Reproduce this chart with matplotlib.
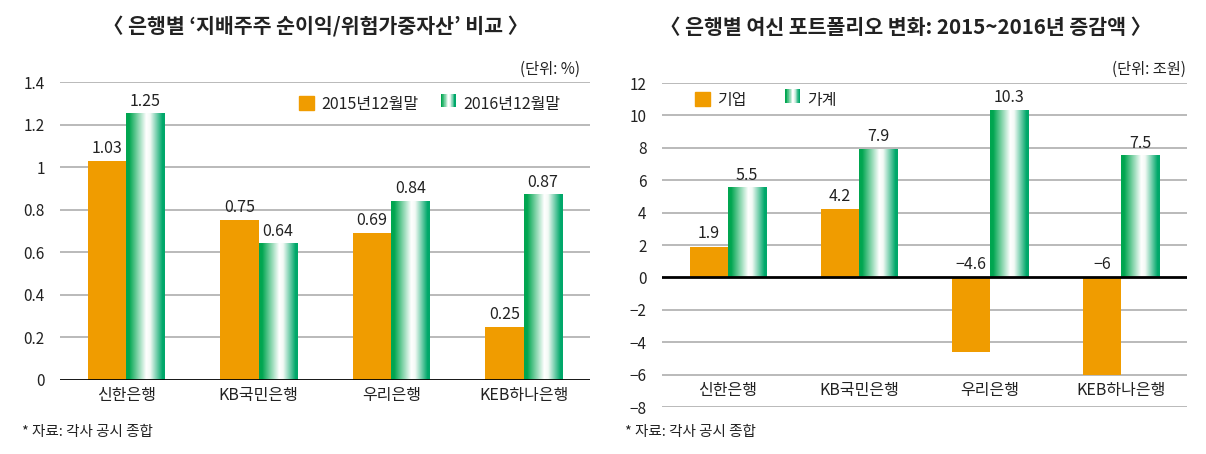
import numpy as np
import matplotlib
matplotlib.use("Agg")
import matplotlib.pyplot as plt
from matplotlib.colors import LinearSegmentedColormap
from matplotlib.patches import Rectangle
from matplotlib.legend_handler import HandlerBase

plt.rcParams['font.family'] = ['Noto Sans CJK KR', 'DejaVu Sans']
plt.rcParams['axes.unicode_minus'] = True

# ── data ──────────────────────────────────────
banks = ["신한은행", "KB국민은행", "우리은행", "KEB하나은행"]

roa_2015 = [1.03, 0.75, 0.69, 0.25]
roa_2016 = [1.25, 0.64, 0.84, 0.87]
roa_labels = ["2015년12월말", "2016년12월말"]
roa_ticks = [0, 0.2, 0.4, 0.6, 0.8, 1, 1.2, 1.4]

loan_corp = [1.9, 4.2, -4.6, -6]
loan_house = [5.5, 7.9, 10.3, 7.5]
loan_labels = ["기업", "가계"]
loan_ticks = [-8, -6, -4, -2, 0, 2, 4, 6, 8, 10, 12]

title_left = "〈 은행별 ‘지배주주 순이익/위험가중자산’ 비교 〉"
title_right = "〈 은행별 여신 포트폴리오 변화: 2015~2016년 증감액 〉"
unit_left = "(단위: %)"
unit_right = "(단위: 조원)"
source = "* 자료: 각사 공시 종합"

# ── style ─────────────────────────────────────
ORANGE = "#f09c00"
TXT = "#222222"
GRID = "#b4b4b4"
FS = 11.5
green_cmap = LinearSegmentedColormap.from_list(
    "grn", [(0.0, "#00a650"), (0.08, "#00a650"), (0.52, "#ffffff"),
            (0.62, "#f4faf6"), (0.94, "#00a86a"), (1.0, "#00a86a")])
grad = np.linspace(0, 1, 256).reshape(1, -1)
BW = 0.29


class GradientHandler(HandlerBase):
    def create_artists(self, legend, orig, xd, yd, width, height, fontsize, trans):
        n = 24
        arts = []
        for i in range(n):
            arts.append(Rectangle((xd + width * i / n, yd), width / n + 0.3, height,
                                  facecolor=green_cmap((i + 0.5) / n), edgecolor="none",
                                  transform=trans))
        return arts


def gradient_bars(ax, x, vals):
    bars = ax.bar(x, vals, BW, color="none", zorder=3)
    for b in bars:
        x0, y0 = b.get_x(), b.get_y()
        ax.imshow(grad, cmap=green_cmap, aspect="auto", zorder=3,
                  extent=[x0, x0 + b.get_width(), y0, y0 + b.get_height()])
    return bars


def style_axes(ax, ticks, ylim):
    ax.set_ylim(*ylim)
    ax.set_xlim(-0.5, len(banks) - 0.5)
    ax.set_yticks(ticks)
    ax.set_yticklabels([f"{t:g}".replace("-", "−") for t in ticks])
    for s in ax.spines.values():
        s.set_visible(False)
    ax.tick_params(axis="y", length=0, pad=11, labelsize=11, labelcolor=TXT)
    for t in ticks:
        if t == 0:
            ax.axhline(t, color="black", lw=2, zorder=4)
        else:
            ax.axhline(t, color=GRID, lw=1.3, zorder=1)


def value_labels(ax, x, vals):
    for xi, v in zip(x, vals):
        y = max(v, 0)
        ax.annotate(f"{v:g}".replace("-", "−"), (xi, y), xytext=(0, 3),
                    textcoords="offset points", ha="center", va="bottom",
                    fontsize=FS, color=TXT, zorder=5)


def add_legend(ax, labels, anchor, colsp):
    h = [Rectangle((0, 0), 1, 1, color=ORANGE), Rectangle((0, 0), 1, 1)]
    ax.legend(h, labels, handler_map={h[1]: GradientHandler()}, ncol=2,
              loc="upper left", bbox_to_anchor=anchor, frameon=False,
              fontsize=FS, handlelength=0.95, handleheight=0.95, handletextpad=0.45,
              columnspacing=colsp, labelcolor=TXT, borderaxespad=0)


fig = plt.figure(figsize=(12.06, 4.54), dpi=100)
x = np.arange(len(banks))

# ── left chart ────────────────────────────────
ax1 = fig.add_axes([60 / 1206, 74 / 454, 530 / 1206, 298 / 454])
ax1.bar(x - BW / 2, roa_2015, BW, color=ORANGE, zorder=3)
gradient_bars(ax1, x + BW / 2, roa_2016)
style_axes(ax1, roa_ticks, (0, 1.4))
ax1.set_xticks(x)
ax1.set_xticklabels(banks)
ax1.tick_params(axis="x", length=0, pad=5, labelsize=FS, labelcolor=TXT)
value_labels(ax1, x - BW / 2, roa_2015)
value_labels(ax1, x + BW / 2, roa_2016)
add_legend(ax1, roa_labels, (0.438, 0.975), 1.4)

# ── right chart ───────────────────────────────
ax2 = fig.add_axes([662 / 1206, 47 / 454, 525 / 1206, 324 / 454])
ax2.bar(x - BW / 2, loan_corp, BW, color=ORANGE, zorder=3)
gradient_bars(ax2, x + BW / 2, loan_house)
style_axes(ax2, loan_ticks, (-8, 12))
ax2.set_xticks([])
for xi, name in zip(x, banks):
    ax2.text(xi, -7, name, ha="center", va="center", fontsize=FS, color=TXT)
value_labels(ax2, x - BW / 2, loan_corp)
value_labels(ax2, x + BW / 2, loan_house)
add_legend(ax2, loan_labels, (0.05, 0.993), 2.4)

# ── titles, units, notes ──────────────────────
fig.text(316 / 1206, 1 - 27 / 454, title_left, ha="center", va="center",
         fontsize=14.8, weight="bold", color=TXT)
fig.text(906 / 1206, 1 - 27 / 454, title_right, ha="center", va="center",
         fontsize=14.8, weight="bold", color=TXT)
fig.text(580 / 1206, 1 - 69 / 454, unit_left, ha="right", va="center",
         fontsize=11, color=TXT)
fig.text(1186 / 1206, 1 - 69 / 454, unit_right, ha="right", va="center",
         fontsize=11, color=TXT)
fig.text(22 / 1206, 1 - 432 / 454, source, ha="left", va="center",
         fontsize=10.5, color=TXT)
fig.text(625 / 1206, 1 - 432 / 454, source, ha="left", va="center",
         fontsize=10.5, color=TXT)

fig.savefig("out.png", dpi=100)
